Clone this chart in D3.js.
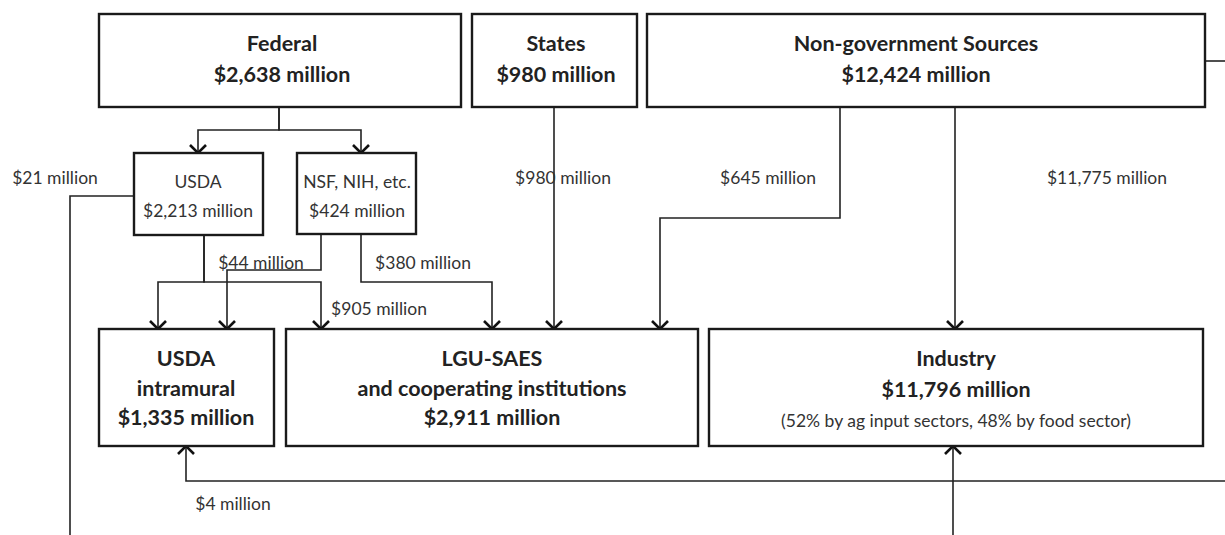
<!DOCTYPE html>
<meta charset="utf-8">
<script src="https://d3js.org/d3.v7.min.js"></script>
<style>
  body { margin: 0; background: #fff; }
  svg { display: block; }
</style>
<body>
<svg width=1225 height=535></svg>
<script>
// ---- data ----
var nodeIds = ["federal", "states", "nongov", "usda", "nsf", "intramural", "lgu", "industry"];
var nodeTitles = [["Federal"], ["States"], ["Non-government Sources"], ["USDA"], ["NSF, NIH, etc."],
                  ["USDA", "intramural"], ["LGU-SAES", "and cooperating institutions"], ["Industry"]];
var nodeAmounts = [2638, 980, 12424, 2213, 424, 1335, 2911, 11796];
var industryNote = "(52% by ag input sectors, 48% by food sector)";

var flowFrom = ["usda", "nsf", "usda", "nsf", "states", "nongov", "nongov", "usda", "other"];
var flowTo = ["intramural", "intramural", "lgu", "lgu", "lgu", "lgu", "industry", "other", "intramural"];
var flowAmounts = [null, 44, 905, 380, 980, 645, 11775, 21, 4];

// ---- layout (pixels) ----
var boxes = {
  federal: [99, 14, 461, 107], states: [472, 14, 637, 107], nongov: [647, 14, 1205, 107],
  usda: [134, 153, 263, 235], nsf: [297, 153, 416, 234],
  intramural: [99, 329, 274, 446], lgu: [286, 329, 698, 446], industry: [709, 329, 1203, 446]
};
var textX = { federal: 282, states: 556, nongov: 916, usda: 198, nsf: 357, intramural: 186, lgu: 492, industry: 956 };

// routes for the flows, same order as the flow arrays
var routes = [
  [[204, 235], [204, 282], [158, 282], [158, 329]],
  [[321, 234], [321, 270], [227, 270], [227, 329]],
  [[204, 235], [204, 282], [321, 282], [321, 329]],
  [[361, 234], [361, 282], [492, 282], [492, 329]],
  [[554, 107], [554, 329]],
  [[840, 107], [840, 218], [660, 218], [660, 329]],
  [[955, 107], [955, 329]],
  [[134, 196], [70, 196], [70, 535]],
  [[1225, 481], [186, 481], [186, 446]]
];
var arrowEnd = [true, true, true, true, true, true, true, false, true];
var labelPos = [null, [261, 262], [379, 308], [423, 262], [563, 177], [768, 177], [1107, 177], [55, 177], [233, 503]];

// extra connectors that carry no label
var extraRoutes = [
  [[279, 107], [279, 130], [198, 130], [198, 153]],
  [[279, 107], [279, 130], [361, 130], [361, 153]],
  [[1205, 61], [1225, 61]],
  [[953, 535], [953, 446]]
];
var extraArrow = [true, true, false, true];

var svg = d3.select("svg");
var fmt = d3.format(",");
var font = "Lato, 'Open Sans', sans-serif";
var lineCol = "#222";

var line = d3.line();

function drawRoute(pts, arrow) {
  svg.append("path")
    .attr("d", line(pts))
    .attr("fill", "none")
    .attr("stroke", lineCol)
    .attr("stroke-width", 1.6);
  if (arrow) {
    var a = pts[pts.length - 2], b = pts[pts.length - 1];
    var ang = Math.atan2(b[1] - a[1], b[0] - a[0]);
    var s = 8;
    var p1 = [b[0] - s * Math.cos(ang) + s * Math.sin(ang), b[1] - s * Math.sin(ang) - s * Math.cos(ang)];
    var p2 = [b[0] - s * Math.cos(ang) - s * Math.sin(ang), b[1] - s * Math.sin(ang) + s * Math.cos(ang)];
    svg.append("path")
      .attr("d", line([p1, b, p2]))
      .attr("fill", "none")
      .attr("stroke", "#111")
      .attr("stroke-width", 2.6);
  }
}

extraRoutes.forEach(function(r, i) { drawRoute(r, extraArrow[i]); });
routes.forEach(function(r, i) { drawRoute(r, arrowEnd[i]); });

// boxes
nodeIds.forEach(function(id, i) {
  var b = boxes[id];
  svg.append("rect")
    .attr("x", b[0]).attr("y", b[1])
    .attr("width", b[2] - b[0]).attr("height", b[3] - b[1])
    .attr("fill", "#fff")
    .attr("stroke", "#1a1a1a")
    .attr("stroke-width", 2.4);
});

// box texts
nodeIds.forEach(function(id, i) {
  var b = boxes[id];
  var small = (id === "usda" || id === "nsf");
  var lines = nodeTitles[i].concat(["$" + fmt(nodeAmounts[i]) + " million"]);
  var gap = small ? 29 : (lines.length === 3 ? 29.5 : 31);
  var y0 = small ? b[1] + 28 : b[1] + 29;
  lines.forEach(function(t, j) {
    svg.append("text")
      .attr("x", textX[id])
      .attr("y", y0 + j * gap)
      .attr("text-anchor", "middle")
      .attr("dominant-baseline", "central")
      .style("font-family", font)
      .style("font-weight", small ? 400 : 700)
      .style("font-size", small ? "17.5px" : "21.5px")
      .style("fill", small ? "#333" : "#222")
      .text(t);
  });
  if (id === "industry") {
    svg.append("text")
      .attr("x", textX[id])
      .attr("y", y0 + 2 * gap)
      .attr("text-anchor", "middle")
      .attr("dominant-baseline", "central")
      .style("font-family", font)
      .style("font-size", "17.5px")
      .style("fill", "#333")
      .text(industryNote);
  }
});

// flow labels
flowAmounts.forEach(function(v, i) {
  if (v === null) return;
  svg.append("text")
    .attr("x", labelPos[i][0])
    .attr("y", labelPos[i][1])
    .attr("text-anchor", "middle")
    .attr("dominant-baseline", "central")
    .style("font-family", font)
    .style("font-size", "17.5px")
    .style("fill", "#333")
    .text("$" + fmt(v) + " million");
});
</script>
</body>
